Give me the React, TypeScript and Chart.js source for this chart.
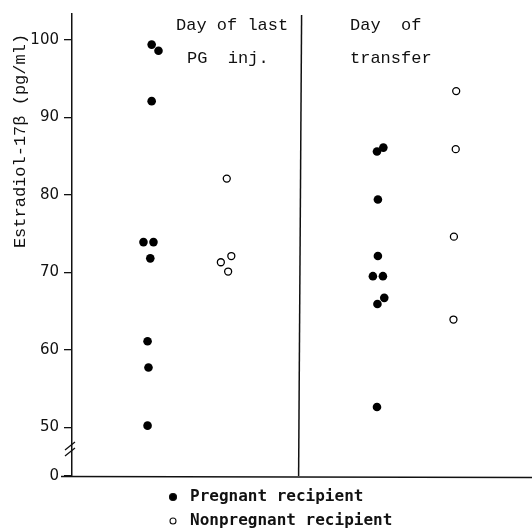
import React, { useEffect, useRef } from "react";
import { Chart, registerables } from "chart.js";

Chart.register(...registerables);

// ---- data ----
const SERIES_LABELS = ["Pregnant recipient", "Nonpregnant recipient"];
const PANEL_TITLES = [["Day of last", "PG  inj."], ["Day  of", "transfer"]];
const Y_AXIS_TITLE = "Estradiol-17\u03b2 (pg/ml)";
const Y_TICKS = [50, 60, 70, 80, 90, 100];
const Y_BREAK_ZERO = 43.7; // position where "0" is shown below the axis break
const Y_MAX = 103.35;
const X_MIN = 0;
const X_MAX = 10;
const DIVIDER_X = 5;

// Day of last PG injection
const pregPG = [99.4, 98.6, 92.1, 73.9, 73.9, 71.8, 61.1, 57.7, 50.2];
const pregPGx = [1.75, 1.9, 1.75, 1.57, 1.79, 1.72, 1.66, 1.68, 1.66];
const nonPG = [82.1, 71.3, 72.1, 70.1];
const nonPGx = [3.4, 3.27, 3.5, 3.43];
// Day of transfer
const pregTr = [85.6, 86.1, 79.4, 72.1, 69.5, 69.5, 65.9, 66.7, 52.6];
const pregTrx = [6.7, 6.84, 6.72, 6.72, 6.61, 6.83, 6.71, 6.86, 6.7];
const nonTr = [93.4, 85.9, 74.6, 63.9];
const nonTrx = [8.44, 8.43, 8.39, 8.38];

const pts = (xs: number[], ys: number[]) => ys.map((y, i) => ({ x: xs[i], y }));

const INK = "#111";

const decorPlugin = {
  id: "decor",
  afterDraw(chart: any) {
    const ctx = chart.ctx;
    const { left, right, top, bottom } = chart.chartArea;
    const xs = chart.scales.x;
    ctx.save();
    ctx.strokeStyle = INK;
    ctx.fillStyle = INK;
    ctx.lineWidth = 1.5;

    // x axis line
    ctx.beginPath();
    ctx.moveTo(61, bottom + 0.5);
    ctx.lineTo(chart.width, bottom + 1.5);
    ctx.stroke();

    // divider
    const dx = xs.getPixelForValue(DIVIDER_X);
    ctx.beginPath();
    ctx.moveTo(dx + 2, top + 1);
    ctx.lineTo(dx - 1, bottom);
    ctx.stroke();

    // axis break marks
    ctx.lineWidth = 1.3;
    ctx.beginPath();
    ctx.moveTo(left - 7, 450);
    ctx.lineTo(left + 3, 442);
    ctx.moveTo(left - 7, 456);
    ctx.lineTo(left + 3, 448);
    ctx.stroke();

    // y title
    ctx.font = '17px "Liberation Mono"';
    ctx.textAlign = "center";
    ctx.textBaseline = "middle";
    ctx.save();
    ctx.translate(20, 141);
    ctx.rotate(-Math.PI / 2);
    ctx.fillText(Y_AXIS_TITLE, 0, 0);
    ctx.restore();

    // panel titles
    ctx.textAlign = "left";
    ctx.fillText(PANEL_TITLES[0][0], 176, 25);
    ctx.fillText(PANEL_TITLES[0][1], 187, 58);
    ctx.fillText(PANEL_TITLES[1][0], 350, 25);
    ctx.fillText(PANEL_TITLES[1][1], 350, 58);

    // legend
    ctx.font = 'bold 16px "DejaVu Sans Mono"';
    chart.data.datasets.forEach((ds: any, i: number) => {
      const y = 497 + i * 24;
      ctx.beginPath();
      ctx.arc(173, y, i === 0 ? 3.5 : 3, 0, Math.PI * 2);
      ctx.fillStyle = ds.backgroundColor;
      ctx.fill();
      ctx.lineWidth = 1.1;
      ctx.strokeStyle = INK;
      ctx.stroke();
      ctx.fillStyle = INK;
      ctx.fillText(ds.label, 190, y);
    });
    ctx.restore();
  },
};

export default function App() {
  const ref = useRef<HTMLCanvasElement>(null);
  useEffect(() => {
    if (!ref.current) return;
    const chart = new Chart(ref.current, {
      type: "scatter",
      data: {
        datasets: [
          {
            label: SERIES_LABELS[0],
            data: [...pts(pregPGx, pregPG), ...pts(pregTrx, pregTr)],
            backgroundColor: "#000",
            borderColor: "#000",
            borderWidth: 0,
            pointRadius: 4.3,
            pointHoverRadius: 4.3,
          },
          {
            label: SERIES_LABELS[1],
            data: [...pts(nonPGx, nonPG), ...pts(nonTrx, nonTr)],
            backgroundColor: "#fff",
            borderColor: "#000",
            borderWidth: 1.3,
            pointRadius: 3.5,
            pointHoverRadius: 3.5,
          },
        ],
      },
      options: {
        responsive: false,
        animation: false,
        events: [],
        layout: { padding: { top: 12, bottom: 54, left: 0, right: 0 } },
        plugins: { legend: { display: false }, tooltip: { enabled: false } },
        scales: {
          x: { type: "linear", display: false, min: X_MIN, max: X_MAX },
          y: {
            type: "linear",
            min: Y_BREAK_ZERO,
            max: Y_MAX,
            afterFit(scale: any) {
              scale.width = 72;
            },
            afterBuildTicks(scale: any) {
              scale.ticks = [Y_BREAK_ZERO, ...Y_TICKS].map((v) => ({ value: v }));
            },
            border: { display: true, color: INK, width: 1.5 },
            grid: {
              display: true,
              drawOnChartArea: false,
              drawTicks: true,
              tickLength: 8,
              color: INK,
              lineWidth: 1.3,
            },
            ticks: {
              padding: 5,
              color: INK,
              font: { family: '"DejaVu Sans"', size: 15 },
              callback: (v: any) => (v === Y_BREAK_ZERO ? "0" : String(v)),
            },
          },
        },
      },
      plugins: [decorPlugin],
    });
    return () => chart.destroy();
  }, []);
  return (
    <div style={{ position: "absolute", left: 0, top: 0, width: 532, height: 530, background: "#fff" }}>
      <canvas ref={ref} width={532} height={530} style={{ display: "block" }} />
    </div>
  );
}
